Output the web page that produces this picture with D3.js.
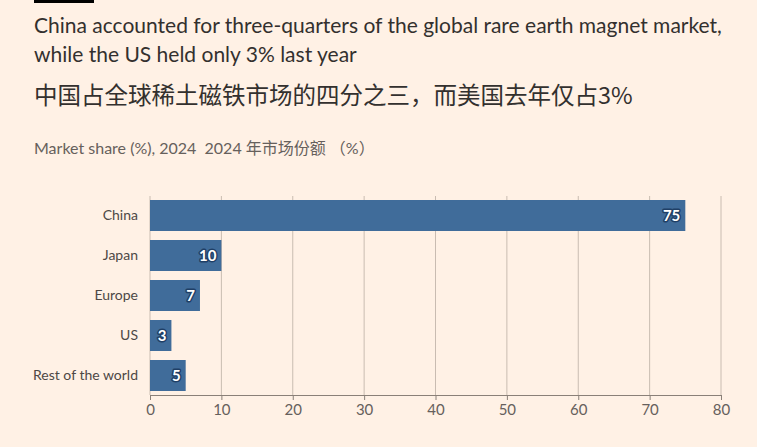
<!DOCTYPE html>
<html>
<head>
<meta charset="utf-8">
<script src="https://cdn.jsdelivr.net/npm/d3@7"></script>
<style>
  body { margin: 0; background: #fff1e5; }
  svg { display: block; }
  text { white-space: pre; }
</style>
</head>
<body>
<div id="chart"></div>
<script>
// data
const regions = ["China", "Japan", "Europe", "US", "Rest of the world"];
const shares = [75, 10, 7, 3, 5];
const xTicks = [0, 10, 20, 30, 40, 50, 60, 70, 80];

const titleEn = ["China accounted for three-quarters of the global rare earth magnet market,",
                 "while the US held only 3% last year"];
const titleZh = "中国占全球稀土磁铁市场的四分之三，而美国去年仅占3%";
const subtitle = "Market share (%), 2024  2024 年市场份额 （%）";

const width = 757, height = 447;
const margin = {top: 196, right: 36, bottom: 52, left: 150};

const svg = d3.select('#chart').append('svg')
  .attr('width', width)
  .attr('height', height)
  .style('background', '#fff1e5');

// little black strip top left
svg.append('rect').attr('x', 34).attr('y', 0).attr('width', 60).attr('height', 3).attr('fill', '#000');

const headFont = "Lato, 'Noto Sans', sans-serif";
const cjkFont = "'Noto Sans CJK SC', sans-serif";

svg.selectAll('.title-en')
  .data(titleEn)
  .enter().append('text')
  .attr('class', 'title-en')
  .attr('x', 34)
  .attr('y', (d, i) => 33 + i * 29)
  .attr('font-family', headFont)
  .attr('font-size', 21)
  .attr('fill', '#33302e')
  .text(d => d);

svg.append('text')
  .attr('x', 34).attr('y', 104)
  .attr('font-family', cjkFont)
  .attr('font-size', 23.5)
  .attr('fill', '#33302e')
  .text(titleZh);

svg.append('text')
  .attr('x', 34).attr('y', 154)
  .attr('font-family', "Lato, " + cjkFont)
  .attr('font-size', 16)
  .attr('fill', '#66605c')
  .text(subtitle);

const x = d3.scaleLinear()
  .domain([0, 80])
  .range([margin.left, width - margin.right]);

const y = d3.scaleBand()
  .domain(regions)
  .range([margin.top, height - margin.bottom])
  .paddingInner(0.225)
  .paddingOuter(0.1);

// vertical gridlines
svg.append('g')
  .selectAll('line')
  .data(xTicks)
  .enter().append('line')
  .attr('x1', d => x(d)).attr('x2', d => x(d))
  .attr('y1', margin.top).attr('y2', height - margin.bottom)
  .attr('stroke', '#c9bcb1')
  .attr('stroke-width', 1);

// bars
svg.append('g')
  .selectAll('rect')
  .data(shares)
  .enter().append('rect')
  .attr('x', x(0))
  .attr('y', (d, i) => y(regions[i]))
  .attr('width', d => x(d) - x(0))
  .attr('height', y.bandwidth())
  .attr('fill', '#406c9a');

// value labels, white with a dark halo
svg.append('g')
  .selectAll('text')
  .data(shares)
  .enter().append('text')
  .attr('x', d => x(d) - 5)
  .attr('y', (d, i) => y(regions[i]) + y.bandwidth() / 2)
  .attr('dy', '0.36em')
  .attr('text-anchor', 'end')
  .attr('font-family', headFont)
  .attr('font-size', 15)
  .attr('font-weight', 'bold')
  .attr('fill', '#fff')
  .attr('stroke', '#1f3f66')
  .attr('stroke-width', 3)
  .attr('paint-order', 'stroke')
  .attr('stroke-linejoin', 'round')
  .text(d => d);

// category labels
svg.append('g')
  .selectAll('text')
  .data(regions)
  .enter().append('text')
  .attr('x', margin.left - 12)
  .attr('y', d => y(d) + y.bandwidth() / 2)
  .attr('dy', '0.35em')
  .attr('text-anchor', 'end')
  .attr('font-family', headFont)
  .attr('font-size', 14)
  .attr('fill', '#4d4845')
  .text(d => d);

// x axis
const xAxis = svg.append('g')
  .attr('transform', `translate(0, ${height - margin.bottom})`)
  .call(d3.axisBottom(x).tickValues(xTicks).tickSize(5).tickPadding(4));

xAxis.select('.domain').attr('stroke', '#8a8078');
xAxis.selectAll('.tick line').attr('stroke', '#8a8078');
xAxis.selectAll('.tick text')
  .attr('font-family', headFont)
  .attr('font-size', 15)
  .attr('fill', '#66605c');
</script>
</body>
</html>
